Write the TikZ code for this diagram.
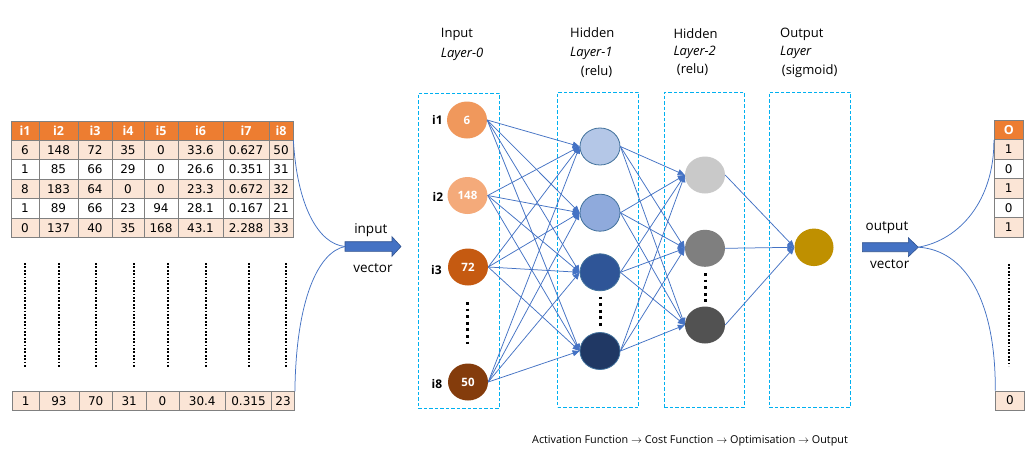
\documentclass[tikz,border=0pt]{standalone}
\usepackage{fontspec}
\setmainfont{Open Sans}
\newfontfamily\numfont{DejaVu Sans}
\usetikzlibrary{shapes.geometric,arrows.meta}
\definecolor{hdr}{HTML}{ED7D31}
\definecolor{peach}{HTML}{FBE5D6}
\definecolor{gridc}{HTML}{808080}
\definecolor{lineblue}{HTML}{4472C4}
\definecolor{arrowedge}{HTML}{2F528F}
\definecolor{boxc}{HTML}{00B0F0}
\definecolor{inA}{HTML}{F0985C}
\definecolor{inB}{HTML}{F4AA7A}
\definecolor{inC}{HTML}{C55A11}
\definecolor{inD}{HTML}{843C0C}
\definecolor{hA}{HTML}{B4C7E7}
\definecolor{hB}{HTML}{8FAADC}
\definecolor{hC}{HTML}{2F5597}
\definecolor{hD}{HTML}{203864}
\definecolor{hEdge}{HTML}{41719C}
\definecolor{gA}{HTML}{C9C9C9}
\definecolor{gB}{HTML}{7F7F7F}
\definecolor{gC}{HTML}{525252}
\definecolor{outc}{HTML}{BF9000}
\newcommand\tabrow[6]{%
  \foreach \v [count=\c] in {#6} {%
    \pgfmathsetmacro\xl{#2[\c-1]}%
    \pgfmathsetmacro\xr{#2[\c]}%
    \node[#5, minimum width={\xr-\xl}, minimum height={#4-#3}] (#1-\c) at ({(\xl+\xr)/2},{(#3+#4)/2}) {\v};
  }}
\tikzset{
  cell/.style={draw=gridc, line width=0.8pt, inner sep=0pt, font=\numfont\fontsize{12}{14}\selectfont, text=black},
  pcell/.style={cell, fill=peach},
  wcell/.style={cell, fill=white},
  hcell/.style={cell, fill=hdr, text=white, font=\bfseries\fontsize{12.5}{14}\selectfont},
  dotcol/.style={line width=2.2pt, dash pattern=on 1.8pt off 1.6pt, black},
  bigdots/.style={line width=3pt, dash pattern=on 2.8pt off 3.8pt, black},
  layerbox/.style={draw=boxc, line width=0.9pt, dash pattern=on 3.5pt off 2pt, inner sep=0pt},
  neuron/.style={ellipse, inner sep=0pt, minimum width=40pt, minimum height=37pt, text=white, font=\bfseries\fontsize{11.5}{13}\selectfont},
  hneuron/.style={neuron, draw=hEdge, line width=0.8pt},
  conn/.style={draw=lineblue, line width=0.75pt, -{Triangle[length=7pt,width=6pt]}},
  curve/.style={draw=lineblue, line width=0.75pt},
  bigarrow/.style={fill=lineblue, draw=arrowedge, line width=0.6pt},
  title/.style={anchor=west, inner sep=0pt, font=\fontsize{13}{15}\selectfont},
  ititle/.style={title, font=\itshape\fontsize{13}{15}\selectfont},
  ilabel/.style={inner sep=0pt, font=\bfseries\fontsize{12}{14}\selectfont},
  veclabel/.style={inner sep=0pt, font=\fontsize{13.5}{15}\selectfont}
}
\begin{document}
\begin{tikzpicture}[x=1pt,y=-1pt]
\useasboundingbox[fill=white] (0,0) rectangle (1036,467);

% ---------- left table ----------
\def\colA{{11,39,78,112,144,178,223,269,293}}
\tabrow{hd}{\colA}{121}{140}{hcell}{i1,i2,i3,i4,i5,i6,i7,i8}
\tabrow{ra}{\colA}{140}{159.5}{pcell}{6,148,72,35,0,33.6,0.627,50}
\tabrow{rb}{\colA}{159.5}{179}{wcell}{1,85,66,29,0,26.6,0.351,31}
\tabrow{rc}{\colA}{179}{198.5}{pcell}{8,183,64,0,0,23.3,0.672,32}
\tabrow{rd}{\colA}{198.5}{218}{wcell}{1,89,66,23,94,28.1,0.167,21}
\tabrow{re}{\colA}{218}{237.5}{pcell}{0,137,40,35,168,43.1,2.288,33}
\def\colB{{12.5,39,79,112.5,146,179,225.5,271.5,294.5}}
\tabrow{rz}{\colB}{391.7}{410.7}{pcell}{1,93,70,31,0,30.4,0.315,23}

\foreach \x in {25,58.7,96.3,134.3,167.7,205.7,248.7,286}
  \draw[dotcol] (\x,263) -- (\x,367);

% ---------- input arrow ----------
\draw[bigarrow] (345,241.7) -- (392,241.7) -- (392,236.7) -- (401,246.5) -- (392,256.3) -- (392,251.3) -- (345,251.3) -- cycle;
\coordinate (inT) at (345,246.5);
\draw[curve] (hd-8.south east) .. controls (297,205) and (318,244) .. (inT);
\draw[curve] (rz-8.north east) .. controls (296,300) and (318,252) .. (inT);
\node[veclabel] (inlab) at (370.8,230) {input};
\node[veclabel] (invec) at (373,268) {vector};

% ---------- layer boxes ----------
\node[layerbox, minimum width=81pt, minimum height=315pt] (L0) at (458.8,250.8) {};
\node[layerbox, minimum width=81pt, minimum height=315pt] (L1) at (598.2,249.8) {};
\node[layerbox, minimum width=80pt, minimum height=315pt] (L2) at (704.3,249.5) {};
\node[layerbox, minimum width=81pt, minimum height=315pt] (L3) at (809.8,249.5) {};

% ---------- titles ----------
\node[title] (t0a) at (440.7,34) {Input};
\node[ititle] (t0b) at (440.7,54) {Layer-0};
\node[title] (t1a) at (570,33) {Hidden};
\node[ititle] (t1b) at (570,53) {Layer-1};
\node[title] (t1c) at (580.7,72) {(relu)};
\node[title] (t2a) at (673.3,34) {Hidden};
\node[ititle] (t2b) at (673.3,52) {Layer-2};
\node[title] (t2c) at (676.7,70) {(relu)};
\node[title] (t3a) at (780,34) {Output};
\node[ititle] (t3b) at (780,52) {Layer};
\node[title] (t3c) at (781.7,71) {(sigmoid)};

% ---------- neurons ----------
\node[neuron, fill=inA] (i1) at (467,120) {6};
\node[neuron, fill=inB] (i2) at (467.5,195.5) {148};
\node[neuron, fill=inC] (i3) at (468,267) {72};
\node[neuron, fill=inD] (i8) at (468,382) {50};
\node[ilabel] (li1) at (437.5,120) {i1};
\node[ilabel] (li2) at (438,196.5) {i2};
\node[ilabel] (li3) at (436.5,269.5) {i3};
\node[ilabel] (li8) at (437,384) {i8};
\draw[bigdots] (467,302) -- (467,345);

\node[hneuron, fill=hA] (h1) at (600,146.5) {};
\node[hneuron, fill=hB] (h2) at (600,212.7) {};
\node[hneuron, fill=hC] (h3) at (600,272.3) {};
\node[hneuron, fill=hD] (h4) at (600,351) {};
\draw[bigdots] (600,296.5) -- (600,326);

\node[neuron, fill=gA] (g1) at (705,175) {};
\node[neuron, fill=gB] (g2) at (705,248.3) {};
\node[neuron, fill=gC] (g3) at (705,325) {};
\draw[bigdots] (705,273) -- (705,302.5);

\node[neuron, fill=outc, minimum width=39pt, minimum height=37.5pt] (o) at (814,247.3) {};

% ---------- connections ----------
\foreach \a in {i1,i2,i3,i8}
  \foreach \b in {h1,h2,h3,h4}
    \draw[conn] (\a.east) -- (\b.west);
\foreach \a in {h1,h2,h3,h4}
  \foreach \b in {g1,g2,g3}
    \draw[conn] (\a.east) -- (\b.west);
\foreach \a in {g1,g2,g3}
  \draw[conn] (\a.east) -- (o.west);

% ---------- output arrow ----------
\draw[bigarrow] (862.3,242.7) -- (908.3,242.7) -- (908.3,237.7) -- (918.3,247.2) -- (908.3,256.7) -- (908.3,251.7) -- (862.3,251.7) -- cycle;
\coordinate (outT) at (918.3,247.2);
\node[veclabel] (outlab) at (887,227.5) {output};
\node[veclabel] (outvec) at (889.7,264) {vector};

% ---------- right table ----------
\def\colR{{994.3,1023.3}}
\tabrow{oh}{\colR}{120}{139.5}{hcell}{O}
\tabrow{oa}{\colR}{139.5}{159}{pcell}{1}
\tabrow{ob}{\colR}{159}{178.5}{wcell}{0}
\tabrow{oc}{\colR}{178.5}{198}{pcell}{1}
\tabrow{od}{\colR}{198}{217.5}{wcell}{0}
\tabrow{oe}{\colR}{217.5}{237}{pcell}{1}
\def\colRb{{995.7,1024}}
\tabrow{oz}{\colRb}{391}{410}{pcell}{0}
\draw[dotcol] (1009.3,264) -- (1009.3,366);

\draw[curve] (outT) .. controls (960,240) and (994.3,200) .. (oh-1.south west);
\draw[curve] (outT) .. controls (965,250) and (995.7,300) .. (oz-1.north west);

% ---------- caption ----------
\node[inner sep=0pt, font=\fontsize{10.8}{12}\selectfont] (cap) at (690,441) {Activation Function $\rightarrow$ Cost Function $\rightarrow$ Optimisation $\rightarrow$ Output};
\end{tikzpicture}
\end{document}
